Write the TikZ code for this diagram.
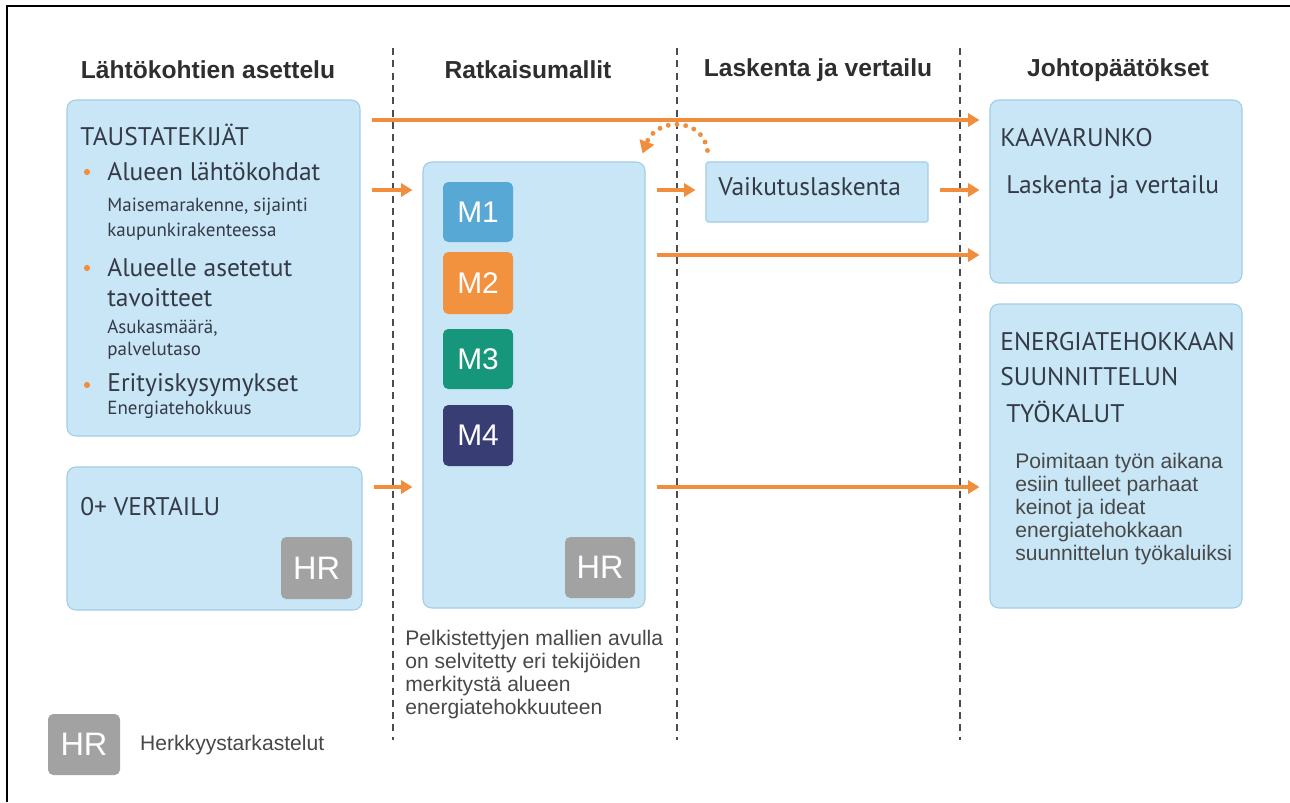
\documentclass[tikz,border=0pt]{standalone}
\usepackage{fontspec}
\setmainfont{Liberation Sans}
\newfontfamily\boxfont{PT Sans}
\usetikzlibrary{fit,arrows.meta}
\definecolor{panelfill}{RGB}{200,230,246}
\definecolor{panelline}{RGB}{160,205,230}
\definecolor{flow}{RGB}{241,142,62}
\definecolor{mone}{RGB}{88,168,214}
\definecolor{mtwo}{RGB}{243,146,62}
\definecolor{mthree}{RGB}{22,150,122}
\definecolor{mfour}{RGB}{56,62,116}
\definecolor{hrgray}{RGB}{162,162,162}
\definecolor{ink}{RGB}{52,58,70}
\definecolor{note}{RGB}{72,72,72}
\tikzset{panel/.style={draw=panelline, fill=panelfill, rounded corners=5pt, inner sep=0pt, line width=0.6pt},
  mbox/.style={rounded corners=3pt, inner sep=0pt},
  mlabel/.style={text=white, font=\fontsize{17}{19}\selectfont},
  hrbox/.style={mbox, fill=hrgray},
  hrlabel/.style={text=white, font=\fontsize{18.5}{20}\selectfont},
  head/.style={font=\bfseries\fontsize{14}{16}\selectfont, text=black!82},
  txt/.style={anchor=west, inner sep=0pt, text=ink, font=\boxfont\fontsize{14.5}{17}\selectfont},
  small/.style={txt, font=\boxfont\fontsize{10.8}{13}\selectfont},
  notetxt/.style={anchor=north west, inner sep=0pt, align=left, text=note, font=\fontsize{12}{13.1}\selectfont},
  bullet/.style={circle, fill=flow, inner sep=0pt, minimum size=3.5pt},
  flowarrow/.style={draw=flow, line width=2.2pt, -{Triangle[length=6.5pt,width=7.5pt]}, shorten <=0.22cm, shorten >=0.2cm},
  sep/.style={draw=black!70, line width=0.8pt, dash pattern=on 4pt off 3pt}}
\begin{document}
\begin{tikzpicture}[x=0.02cm, y=-0.02cm]
  \useasboundingbox (0,0) rectangle (1290,802);
  \draw[line width=1pt] (7,802) -- (7,6) -- (1290,6);
  \foreach \xs in {393,677,960} \draw[sep] (\xs,48) -- (\xs,740);
  \node[head] (h1) at (208,70) {Lähtökohtien asettelu};
  \node[head] (h2) at (528,70) {Ratkaisumallit};
  \node[head] (h3) at (818,70) {Laskenta ja vertailu};
  \node[head] (h4) at (1118,70) {Johtopäätökset};

  \node[panel, fit={(67,100) (360,436)}] (taust) {};
  \node[txt] (t0) at (80,135) {TAUSTATEKIJÄT};
  \node[bullet] (b1) at (87,172) {};
  \node[txt] (t1) at (107,172) {Alueen lähtökohdat};
  \node[small] (t2) at (107,207) {Maisemarakenne, sijainti};
  \node[small] (t3) at (107,232) {kaupunkirakenteessa};
  \node[bullet] (b2) at (87,268) {};
  \node[txt] (t4) at (107,268) {Alueelle asetetut};
  \node[txt] (t5) at (107,298) {tavoitteet};
  \node[small] (t6) at (107,328) {Asukasmäärä,};
  \node[small] (t7) at (107,351) {palvelutaso};
  \node[bullet] (b3) at (87,385) {};
  \node[txt] (t8) at (107,385) {Erityiskysymykset};
  \node[small] (t9) at (107,410) {Energiatehokkuus};

  \node[panel, fit={(67,467) (362,610)}] (vert) {};
  \node[txt] (v0) at (80,507) {0+ VERTAILU};
  \node[hrbox, fit={(281,537) (352,599)}, label={[hrlabel]center:HR}] (hrA) {};

  \node[panel, fit={(423,162) (645,608)}] (malli) {};
  \node[mbox, fill=mone, fit={(443,182) (513,242)}, label={[mlabel]center:M1}] (m1) {};
  \node[mbox, fill=mtwo, fit={(443,252) (513,314)}, label={[mlabel]center:M2}] (m2) {};
  \node[mbox, fill=mthree, fit={(443,329) (513,389)}, label={[mlabel]center:M3}] (m3) {};
  \node[mbox, fill=mfour, fit={(443,405) (513,466)}, label={[mlabel]center:M4}] (m4) {};
  \node[hrbox, fit={(565,537) (635,598)}, label={[hrlabel]center:HR}] (hrB) {};
  \node[notetxt] (selite) at (405,630)
    {Pelkistettyjen mallien avulla\\on selvitetty eri tekijöiden\\merkitystä alueen\\energiatehokkuuteen};

  \node[panel, rounded corners=1pt, fit={(706,162) (928,222)}] (vaik) {};
  \node[txt] (vk) at (718,187) {Vaikutuslaskenta};

  \node[panel, fit={(990,100) (1242,283)}] (kaava) {};
  \node[txt] (k0) at (1000,138) {KAAVARUNKO};
  \node[txt] (k1) at (1006,187) {Laskenta ja vertailu};

  \node[panel, fit={(990,304) (1242,608)}] (energ) {};
  \node[txt] (e0) at (1000,342) {ENERGIATEHOKKAAN};
  \node[txt] (e1) at (1000,377) {SUUNNITTELUN};
  \node[txt] (e2) at (1006,412) {TYÖKALUT};
  \node[notetxt] (e3) at (1015,453)
    {Poimitaan työn aikana\\esiin tulleet parhaat\\keinot ja ideat\\energiatehokkaan\\suunnittelun työkaluiksi};

  \node[hrbox, fit={(48,714) (120,775)}, label={[hrlabel]center:HR}] (hrL) {};
  \node[anchor=west, text=note, font=\fontsize{12}{14}\selectfont] (hrtxt) at (134,745) {Herkkyystarkastelut};

  \coordinate (ya) at (0,120);
  \coordinate (yb) at (0,190);
  \coordinate (yc) at (0,255);
  \coordinate (yd) at (0,487);
  \draw[flowarrow] (taust.east |- ya) -- (kaava.west |- ya);
  \draw[flowarrow] (taust.east |- yb) -- (malli.west |- yb);
  \draw[flowarrow] (malli.east |- yb) -- (vaik.west |- yb);
  \draw[flowarrow] (vaik.east |- yb) -- (kaava.west |- yb);
  \draw[flowarrow] (malli.east |- yc) -- (kaava.west |- yc);
  \draw[flowarrow] (vert.east |- yd) -- (malli.west |- yd);
  \draw[flowarrow] (malli.east |- yd) -- (energ.west |- yd);
  \draw[draw=flow, line width=2.8pt, line cap=round, dash pattern=on 0pt off 5pt, -{Triangle[length=7pt,width=8.5pt]}]
    ([xshift=0.04cm, yshift=0.22cm]vaik.north west) .. controls (702,116) and (656,118) .. ([xshift=-0.06cm, yshift=0.16cm]malli.north east);
\end{tikzpicture}
\end{document}
